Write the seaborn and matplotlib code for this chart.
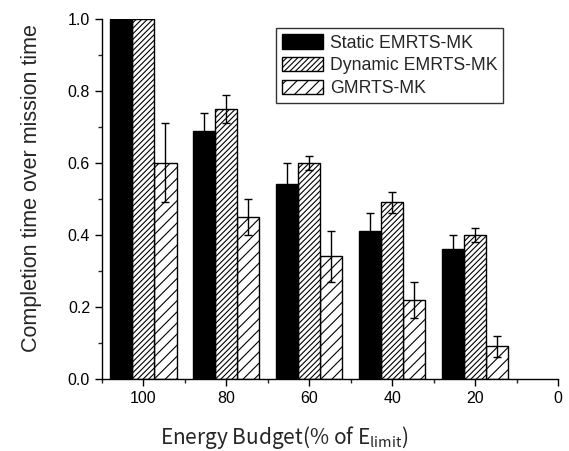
import numpy as np
import pandas as pd
import matplotlib
matplotlib.use("Agg")
import matplotlib.pyplot as plt
import seaborn as sns
from matplotlib.patches import Patch
from matplotlib.ticker import MultipleLocator

budgets = [100, 80, 60, 40, 20]
methods = ["Static EMRTS-MK", "Dynamic EMRTS-MK", "GMRTS-MK"]
static_vals = [1.0, 0.69, 0.54, 0.41, 0.36]
static_err = [0.0, 0.05, 0.06, 0.05, 0.04]
dynamic_vals = [1.0, 0.75, 0.60, 0.49, 0.40]
dynamic_err = [0.0, 0.04, 0.02, 0.03, 0.02]
gmrts_vals = [0.60, 0.45, 0.34, 0.22, 0.09]
gmrts_err = [0.11, 0.05, 0.07, 0.05, 0.03]

df = pd.DataFrame({
    "budget": budgets * 3,
    "method": [m for m in methods for _ in budgets],
    "value": static_vals + dynamic_vals + gmrts_vals,
})
errs = {methods[0]: static_err, methods[1]: dynamic_err, methods[2]: gmrts_err}

sns.set_style("ticks")
plt.rcParams["font.family"] = ["Liberation Sans", "DejaVu Sans"]
plt.rcParams["hatch.linewidth"] = 0.8

fig = plt.figure(figsize=(5.69, 4.51), dpi=100)
ax = fig.add_axes([0.179, 0.160, 0.802, 0.798])

# x axis is reversed, so hue order is reversed to keep Static on the left
order = methods[::-1]
sns.barplot(data=df, x="budget", y="value", hue="method", hue_order=order,
            native_scale=True, errorbar=None, ax=ax, legend=False,
            palette={methods[0]: "black", methods[1]: "white", methods[2]: "white"},
            edgecolor="black", linewidth=1, saturation=1)

hatches = {methods[0]: "", methods[1]: "//////", methods[2]: "///"}
for cont, m in zip(ax.containers, order):
    err_of = dict(zip(budgets, errs[m]))
    # bars in a container follow ascending budget
    for bar, b in zip(cont, sorted(budgets)):
        bar.set_hatch(hatches[m])
        e = err_of[b]
        if e > 0:
            ax.errorbar(bar.get_x() + bar.get_width() / 2, bar.get_height(), yerr=e,
                        fmt="none", ecolor="black", elinewidth=1, capsize=3,
                        capthick=1, zorder=5)

ax.set_xlim(110, 0)
ax.set_ylim(0, 1.0)
ax.xaxis.set_major_locator(MultipleLocator(20))
ax.xaxis.set_minor_locator(MultipleLocator(10))
ax.yaxis.set_major_locator(MultipleLocator(0.2))
ax.yaxis.set_minor_locator(MultipleLocator(0.1))
ax.yaxis.set_major_formatter(plt.FormatStrFormatter("%.1f"))
ax.tick_params(which="major", direction="out", length=5, width=1, labelsize=11.5, colors="black")
ax.tick_params(which="minor", direction="out", length=3, width=1)
for s in ["left", "bottom"]:
    ax.spines[s].set_linewidth(1)
    ax.spines[s].set_color("black")
sns.despine(ax=ax)

ax.set_ylabel("Completion time over mission time", fontsize=15.5,
              family=["Liberation Sans", "DejaVu Sans"])
ax.yaxis.set_label_coords(-0.132, 0.53)
ax.set_xlabel("Energy Budget(% of E$_{\\mathregular{limit}}$)", fontsize=15,
              family=["Noto Sans CJK JP", "DejaVu Sans"])
ax.xaxis.set_label_coords(0.40, -0.125)

handles = [Patch(facecolor="black" if m == methods[0] else "white", edgecolor="black",
                 hatch=hatches[m], linewidth=1) for m in methods]
leg = ax.legend(handles, methods, loc="upper right", bbox_to_anchor=(0.88, 0.975),
                fontsize=12.7, frameon=True, fancybox=False, handlelength=2.3,
                handleheight=0.9, borderpad=0.35, labelspacing=0.3, handletextpad=0.4,
                borderaxespad=0, prop={"family": ["Liberation Sans", "DejaVu Sans"], "size": 12.7})
leg.get_frame().set_edgecolor("black")
leg.get_frame().set_linewidth(1)

fig.savefig("out.png", dpi=100)
